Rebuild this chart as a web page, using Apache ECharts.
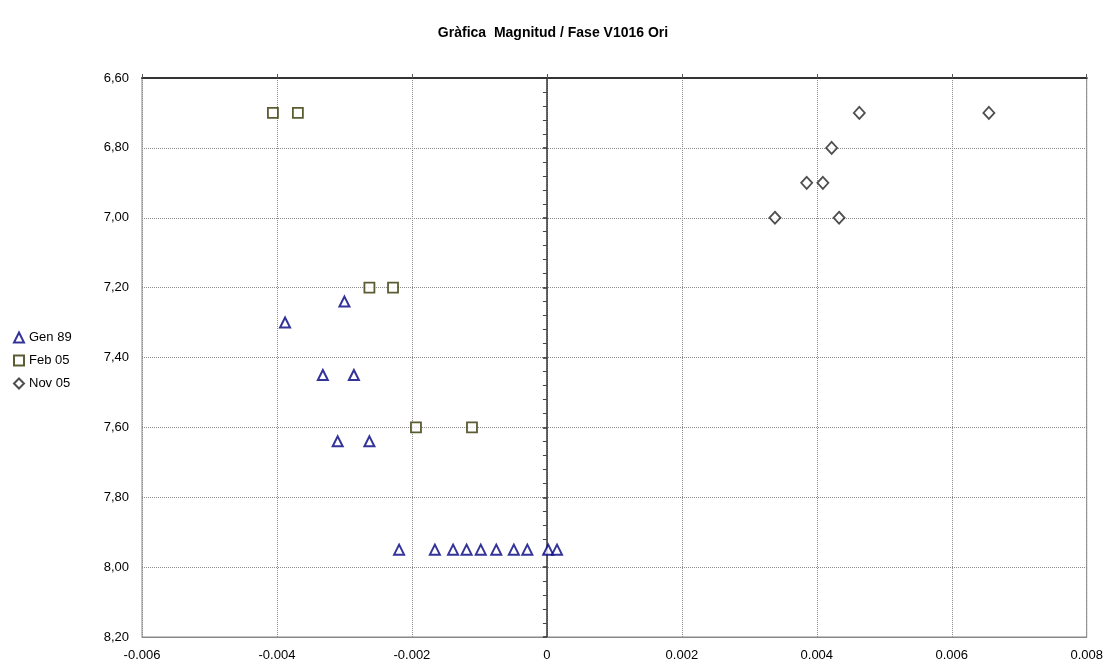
<!DOCTYPE html>
<html>
<head>
<meta charset="utf-8">
<title>Gràfica Magnitud / Fase V1016 Ori</title>
<script src="https://cdn.jsdelivr.net/npm/echarts@6/dist/echarts.min.js"></script>
<style>
  html, body { margin: 0; padding: 0; background: #fff; }
  #chart { width: 1106px; height: 666px; }
</style>
</head>
<body>
<div id="chart"></div>
<script>
// fase (x) i magnitud (y) de cada sèrie
const gen89X = [-0.00300, -0.00388, -0.00332, -0.00286, -0.00310, -0.00263,
  -0.00219, -0.00166, -0.00139, -0.00119, -0.00098, -0.00075, -0.00049, -0.00029, 0.00002, 0.00015];
const gen89Y = [7.24, 7.30, 7.45, 7.45, 7.64, 7.64,
  7.95, 7.95, 7.95, 7.95, 7.95, 7.95, 7.95, 7.95, 7.95, 7.95];

const feb05X = [-0.00406, -0.00369, -0.00263, -0.00228, -0.00194, -0.00111];
const feb05Y = [6.70, 6.70, 7.20, 7.20, 7.60, 7.60];

const nov05X = [0.00463, 0.00655, 0.00422, 0.00385, 0.00409, 0.00338, 0.00433];
const nov05Y = [6.70, 6.70, 6.80, 6.90, 6.90, 7.00, 7.00];

const seriesNames = ['Gen 89', 'Feb 05', 'Nov 05'];

const xMin = -0.006, xMax = 0.008, xStep = 0.002;
const yMin = 6.6, yMax = 8.2, yStep = 0.2;

const pairs = (xs, ys) => xs.map((x, i) => [x, ys[i]]);

const chart = echarts.init(document.getElementById('chart'));
const font = 'Liberation Sans, Arial, sans-serif';
const gridLine = { show: true, lineStyle: { color: '#8c8c8c', type: [1, 1], width: 1 } };

const option = {
  animation: false,
  title: {
    text: 'Gràfica  Magnitud / Fase V1016 Ori',
    left: 'center',
    top: 21,
    textStyle: { fontFamily: font, fontSize: 14, fontWeight: 'bold', color: '#000' }
  },
  legend: {
    orient: 'vertical',
    left: 8,
    top: 326,
    itemWidth: 10,
    itemHeight: 10,
    itemGap: 10,
    textStyle: { fontFamily: font, fontSize: 13, color: '#000' },
    data: seriesNames
  },
  grid: {
    left: 142, right: 19, top: 78, bottom: 29,
    show: true,
    borderColor: '#888',
    borderWidth: 1
  },
  xAxis: [
    {
      type: 'value', position: 'bottom',
      min: xMin, max: xMax, interval: xStep,
      axisLine: { onZero: false, lineStyle: { color: '#888', width: 1 } },
      axisTick: { show: false },
      axisLabel: {
        margin: 12,
        fontFamily: font, fontSize: 13, color: '#000',
        formatter: v => Math.abs(v) < 1e-9 ? '0' : v.toFixed(3)
      },
      splitLine: gridLine
    },
    {
      // eix superior fosc amb marques
      type: 'value', position: 'top',
      min: xMin, max: xMax, interval: xStep,
      axisLine: { onZero: false, lineStyle: { color: '#333', width: 2 } },
      axisTick: { show: true, inside: false, length: 4, lineStyle: { color: '#555' } },
      axisLabel: { show: false },
      splitLine: { show: false }
    }
  ],
  yAxis: [
    {
      type: 'value', position: 'left', inverse: true,
      min: yMin, max: yMax, interval: yStep,
      axisLine: { show: false, onZero: false },
      axisTick: { show: false },
      axisLabel: {
        margin: 13,
        fontFamily: font, fontSize: 13, color: '#000',
        formatter: v => v.toFixed(2).replace('.', ',')
      },
      splitLine: gridLine
    },
    {
      // eix vertical a fase 0
      type: 'value', position: 'left', inverse: true,
      min: yMin, max: yMax, interval: yStep,
      axisLine: { show: true, onZero: true, onZeroAxisIndex: 0, lineStyle: { color: '#333', width: 1.5 } },
      axisTick: { show: true, length: 4, lineStyle: { color: '#333', width: 1.5 } },
      minorTick: { show: true, splitNumber: 5, length: 4, lineStyle: { color: '#444', width: 1 } },
      axisLabel: { show: false },
      splitLine: { show: false }
    }
  ],
  series: [
    {
      name: seriesNames[0], type: 'scatter',
      symbol: 'triangle', symbolSize: 10,
      itemStyle: { color: '#fff', borderColor: '#000080', borderWidth: 2 },
      data: pairs(gen89X, gen89Y)
    },
    {
      name: seriesNames[1], type: 'scatter',
      symbol: 'rect', symbolSize: 10,
      itemStyle: { color: '#fff', borderColor: '#333300', borderWidth: 1.8 },
      data: pairs(feb05X, feb05Y)
    },
    {
      name: seriesNames[2], type: 'scatter',
      symbol: 'diamond', symbolSize: [11, 12],
      itemStyle: { color: '#fff', borderColor: '#222', borderWidth: 1.8 },
      data: pairs(nov05X, nov05Y)
    }
  ]
};

chart.setOption(option);
window.addEventListener('resize', () => chart.resize());
</script>
</body>
</html>
